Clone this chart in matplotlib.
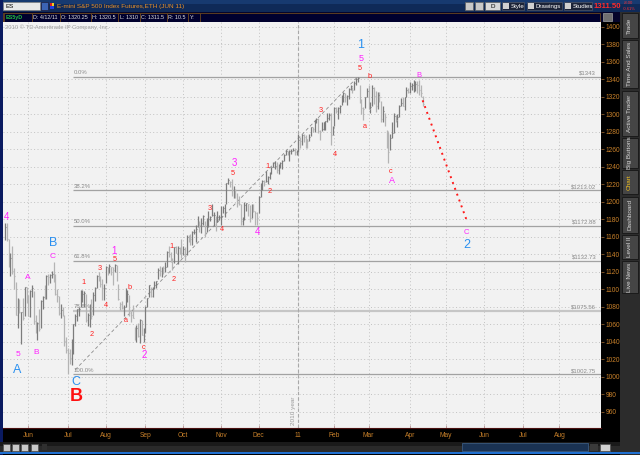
import matplotlib
matplotlib.use("Agg")
import matplotlib.pyplot as plt
from matplotlib.patches import Rectangle
import numpy as np

# ---------------- data ----------------
# daily bars, 12 May 2010 .. 12 Apr 2011 (trading-day index)
highs = [1176, 1176, 1157, 1141, 1149, 1124, 1108, 1090, 1089, 1074, 1090, 1103, 1103,
         1094, 1099, 1105, 1098, 1071, 1063, 1077, 1088, 1092, 1105, 1116, 1117, 1118, 1121, 1131, 1118, 1100, 1092, 1083, 1080, 1071, 1045,
         1033, 1032, 1043, 1060, 1072, 1078, 1080, 1099, 1099, 1098, 1095, 1073, 1083, 1089, 1097, 1103, 1116, 1120, 1115, 1112, 1106,
         1127, 1126, 1129, 1126, 1125, 1129, 1128, 1106, 1086, 1087, 1082, 1101, 1099, 1093, 1075, 1082, 1057, 1059, 1061, 1066, 1065, 1056,
         1081, 1090, 1105, 1103, 1103, 1110, 1110, 1124, 1127, 1126, 1127, 1131, 1144, 1149, 1143, 1136, 1148, 1149, 1150, 1148, 1158,
         1150, 1148, 1162, 1162, 1163, 1167, 1169, 1173, 1184, 1178, 1182, 1185, 1178, 1182, 1189, 1184, 1197, 1188, 1184, 1189, 1185,
         1195, 1195, 1198, 1221, 1227, 1224, 1226, 1218, 1215, 1210, 1207, 1198, 1183, 1200, 1199, 1198, 1196, 1198, 1198, 1190, 1188,
         1207, 1222, 1225, 1225, 1235, 1229, 1234, 1240, 1246, 1247, 1245, 1243, 1245, 1248, 1255, 1259, 1258, 1259, 1260, 1262, 1261, 1259,
         1277, 1274, 1277, 1278, 1276, 1272, 1277, 1286, 1286, 1293, 1296, 1296, 1282, 1291, 1291, 1292, 1302, 1301, 1302, 1287,
         1308, 1308, 1308, 1311, 1322, 1325, 1324, 1322, 1330, 1333, 1331, 1338, 1341, 1343, 1334, 1317, 1308, 1320, 1330,
         1333, 1314, 1334, 1331, 1327, 1325, 1326, 1315, 1309, 1302, 1282, 1280, 1278, 1291, 1301, 1299, 1300, 1311, 1319, 1320, 1320, 1331, 1330,
         1337, 1336, 1339, 1338, 1338, 1339, 1333, 1320.5]
lows = [1156, 1155, 1126, 1115, 1117, 1100, 1071, 1056, 1073, 1038, 1065, 1069, 1084,
        1069, 1068, 1091, 1060, 1050, 1042, 1052, 1056, 1077, 1089, 1089, 1105, 1107, 1113, 1108, 1094, 1085, 1071, 1067, 1070, 1035, 1027,
        1003, 1015, 1014, 1026, 1058, 1064, 1070, 1080, 1085, 1080, 1063, 1058, 1057, 1066, 1071, 1087, 1102, 1109, 1103, 1088, 1088,
        1107, 1116, 1119, 1116, 1105, 1120, 1109, 1088, 1076, 1078, 1069, 1080, 1085, 1070, 1063, 1067, 1042, 1040, 1045, 1039, 1048, 1040,
        1050, 1080, 1091, 1091, 1091, 1100, 1101, 1112, 1115, 1114, 1118, 1120, 1126, 1137, 1131, 1122, 1130, 1142, 1129, 1140, 1136,
        1139, 1131, 1139, 1154, 1151, 1151, 1163, 1154, 1171, 1166, 1164, 1174, 1160, 1166, 1171, 1178, 1184, 1172, 1167, 1177, 1179,
        1174, 1187, 1183, 1198, 1220, 1217, 1207, 1204, 1204, 1194, 1196, 1173, 1173, 1179, 1189, 1184, 1177, 1182, 1188, 1174, 1173,
        1187, 1206, 1214, 1218, 1223, 1220, 1226, 1232, 1240, 1237, 1233, 1232, 1239, 1238, 1247, 1254, 1253, 1247, 1255, 1258, 1254, 1254,
        1257, 1262, 1265, 1268, 1262, 1262, 1270, 1275, 1280, 1280, 1290, 1279, 1271, 1281, 1282, 1282, 1291, 1294, 1265, 1276,
        1287, 1302, 1295, 1301, 1311, 1314, 1314, 1311, 1317, 1328, 1324, 1328, 1333, 1337, 1313, 1300, 1294, 1307, 1320,
        1306, 1302, 1310, 1312, 1303, 1306, 1314, 1291, 1291, 1287, 1261, 1244, 1259, 1273, 1279, 1291, 1285, 1297, 1310, 1309, 1305, 1320, 1324,
        1324, 1328, 1326, 1327, 1324, 1322, 1320, 1310]
closes = [1171, 1157, 1136, 1136, 1121, 1115, 1071, 1087, 1074, 1074, 1067, 1103, 1089,
          1070, 1098, 1102, 1064, 1050, 1062, 1055, 1087, 1091, 1089, 1115, 1114, 1116, 1117, 1113, 1095, 1092, 1073, 1076, 1074, 1041, 1031,
          1027, 1022, 1028, 1060, 1070, 1078, 1078, 1095, 1095, 1096, 1065, 1071, 1083, 1069, 1093, 1102, 1115, 1113, 1106, 1101, 1101,
          1125, 1120, 1127, 1125, 1122, 1128, 1121, 1089, 1083, 1079, 1080, 1093, 1095, 1075, 1071, 1067, 1051, 1056, 1047, 1065, 1048, 1049,
          1080, 1090, 1105, 1092, 1099, 1105, 1110, 1122, 1121, 1125, 1124, 1125, 1143, 1140, 1134, 1124, 1148, 1142, 1147, 1145, 1141,
          1146, 1138, 1160, 1159, 1158, 1165, 1166, 1169, 1178, 1173, 1176, 1184, 1166, 1178, 1180, 1183, 1185, 1185, 1182, 1183, 1183,
          1184, 1193, 1198, 1221, 1225, 1223, 1213, 1218, 1213, 1199, 1198, 1178, 1178, 1196, 1199, 1197, 1181, 1198, 1189, 1187, 1181,
          1206, 1221, 1224, 1223, 1224, 1228, 1233, 1240, 1240, 1241, 1236, 1243, 1244, 1247, 1254, 1258, 1256, 1258, 1258, 1259, 1257, 1258,
          1271, 1270, 1276, 1274, 1272, 1269, 1274, 1285, 1283, 1293, 1295, 1281, 1280, 1283, 1291, 1292, 1296, 1299, 1276, 1286,
          1307, 1304, 1307, 1310, 1319, 1324, 1320, 1321, 1329, 1332, 1328, 1336, 1340, 1342, 1315, 1307, 1306, 1320, 1327,
          1306, 1308, 1330, 1321, 1310, 1322, 1320, 1295, 1304, 1297, 1281, 1257, 1273, 1279, 1298, 1293, 1297, 1309, 1313, 1310, 1320, 1328, 1326,
          1332, 1333, 1333, 1335, 1333, 1328, 1324, 1311.5]

month_pos = [13, 35, 56, 78, 99, 120, 141, 163, 183, 202, 225, 245, 266, 288, 308]
month_labels = ["Jun", "Jul", "Aug", "Sep", "Oct", "Nov", "Dec", "11", "Feb", "Mar", "Apr", "May", "Jun", "Jul", "Aug"]
price_ticks = list(range(960, 1401, 20))

fib_pcts = ["0.0%", "38.2%", "50.0%", "61.8%", "78.6%", "100.0%"]
fib_levels = [1343, 1213.02, 1172.88, 1132.73, 1075.56, 1002.75]
fib_start = 37.8

trend_x = [39, 196]
trend_y = [1008, 1343]
proj_x = [232, 257]
proj_y = [1316, 1176]
year_line = 163

# wave labels
mag_text = ["4", "5", "A", "B", "C", "1", "2", "3", "4", "5", "A", "B", "C"]
mag_x = [0.9, 7.4, 12.9, 17.6, 26.5, 60.7, 77.2, 127.2, 140.2, 197.6, 214.8, 230, 256.5]
mag_y = [1183, 1025, 1113, 1028, 1138, 1144, 1025, 1244, 1166, 1364, 1224, 1344, 1165]
mag_size = [7, 6, 6, 6, 6, 7, 7, 7, 7, 6.5, 6.5, 5.5, 5.5]

blue_text = ["A", "B", "C", "1", "2"]
blue_x = [6.5, 26.8, 39.4, 197.6, 256.5]
blue_y = [1008, 1153, 994, 1379, 1151]

bigred_text = ["B"]
bigred_x = [39.4]
bigred_y = [977]

red_text = ["1", "2", "3", "4", "5", "a", "b", "c", "1", "2", "3", "4", "5",
            "1", "2", "3", "4", "5", "a", "b", "c"]
red_x = [43.5, 48.2, 52.8, 56.1, 60.7, 67.2, 69.1, 76.8, 92.6, 93.9, 113.5, 120.7, 126.5,
         145.7, 147.2, 175.6, 183.3, 197.2, 199.8, 202.8, 214.3]
red_y = [1107.5, 1047.8, 1124, 1081, 1134, 1064, 1102.6, 1033, 1149.5, 1111.4, 1191.8, 1168.6, 1231.8,
         1240, 1211.5, 1304.6, 1253.5, 1352.6, 1285.8, 1343, 1235.2]

# ---------------- figure ----------------
W, H = 640, 455
FONT = ["Liberation Sans", "DejaVu Sans"]
NARROW = ["Liberation Sans Narrow", "Liberation Sans", "DejaVu Sans"]
plt.rcParams["font.family"] = FONT

fig = plt.figure(figsize=(W / 100, H / 100), dpi=100, facecolor="black")

# background chrome axes (pixel coordinates)
bg = fig.add_axes([0, 0, 1, 1], zorder=0)
bg.set_xlim(0, W)
bg.set_ylim(H, 0)
bg.axis("off")


def rect(x0, y0, x1, y1, fc, ec="none", lw=0.0, ax=bg):
    ax.add_patch(Rectangle((x0, y0), x1 - x0, y1 - y0, facecolor=fc, edgecolor=ec, linewidth=lw))


# header row 1
rect(0, 0, W, 12, "#0f2a58")
rect(0, 0, W, 4, "#173a70")
rect(3, 2, 40, 10, "#e8e8e8", "#808080", 0.5)
bg.text(6, 6.2, "ES", fontsize=4.5, color="black", va="center")
rect(41, 2, 48, 10, "#3c64b4", "#202040", 0.5)
rect(49.5, 3, 51.5, 6, "#e02020")
rect(51.5, 3, 53.5, 6, "#f0d020")
rect(49.5, 6, 53.5, 9, "#2040e0")
bg.text(57, 6.2, "E-mini S&P 500 Index Futures,ETH (JUN 11)", fontsize=4.6, color="#e8902a", va="center")
for x0, x1 in [(465, 473), (475, 483)]:
    rect(x0, 2, x1, 10, "#c8c8c8", "#606060", 0.5)
rect(485, 2, 500, 10, "#d8d8d8", "#606060", 0.5)
bg.text(492.5, 6.2, "D", fontsize=4.5, color="black", va="center", ha="center")
for x0, x1, lab in [(502, 524, "Style"), (527, 562, "Drawings"), (564, 592, "Studies")]:
    rect(x0, 2, x1, 10, "#1c2438", "#505868", 0.5)
    rect(x0 + 1, 3, x0 + 7, 9, "#d0d0d0")
    bg.text(x0 + 8.5, 6.2, lab, fontsize=4.4, color="white", va="center")
bg.text(594, 6.2, "1311.50", fontsize=5.6, color="#ff2a2a", va="center", fontweight="bold",
        fontfamily=NARROW)
bg.text(624, 2.9, "-8.00", fontsize=3.0, color="#ff3030", va="center", fontfamily=NARROW)
bg.text(623, 8.9, "-0.61%", fontsize=3.0, color="#ff3030", va="center", fontfamily=NARROW)

# header row 2
rect(0, 12, W, 22, "#05052a")
rect(3, 12.5, 600, 21.5, "#00002e", "#6a4620", 0.6)
row2 = [("ES5yD", 4, 31.7, "#22c040"), ("D: 4/12/11", 31.7, 60, "#e0e0e0"),
        ("O: 1320.25", 60, 90.7, "#e0e0e0"), ("H: 1320.5", 90.7, 118.3, "#e0e0e0"),
        ("L: 1310", 118.3, 140, "#e0e0e0"), ("C: 1311.5", 140, 166.7, "#e0e0e0"),
        ("R: 10.5", 166.7, 188.3, "#e0e0e0"), ("Y:", 188.3, 200, "#e0e0e0")]
for t, x0, x1, c in row2:
    rect(x0, 12.5, x1, 21.5, "#00002e", "#6a4620", 0.6)
    bg.text(x0 + 1.2, 17.2, t, fontsize=3.9, color=c, va="center", fontfamily=NARROW,
            fontweight="bold" if t == "ES5yD" else "normal")
rect(603, 13, 612, 21, "#707070", "#a0a0a0", 0.5)

# left border
rect(0, 0, 2.5, H, "#0a1a60")

# right tab panel
rect(620, 12, W, H, "#2c2c2c")
tabs = [("Trade", 13, 38), ("Time And Sales", 40, 88), ("Active Trader", 91, 136),
        ("Big Buttons", 138, 168), ("Chart", 170, 194), ("Dashboard", 197, 233),
        ("Level II", 235, 259), ("Live News", 261, 293)]
for t, y0, y1 in tabs:
    rect(621.5, y0, 637.5, y1, "#454545", "#161616", 0.6)
    bg.text(629.5, (y0 + y1) / 2, t, rotation=90, fontsize=4.6, va="center", ha="center",
            color="#f0c020" if t == "Chart" else "#d8d8d8")

# bottom scroll bar
rect(0, 442, 620, 452, "#1a1a1a")
rect(0, 446, 620, 452, "#2a2a2a")
for x0 in [3, 12, 21, 31]:
    rect(x0, 443.5, x0 + 7, 450.5, "#c8c8c8", "#505050", 0.5)
rect(42, 444, 47, 450, "#303030")
rect(462, 442.5, 588, 451, "#1a3252", "#3a5a80", 0.6)
rect(590, 443.5, 598, 450.5, "#3a3a3a")
rect(600, 443.5, 610, 450.5, "#d0d0d0", "#505050", 0.5)
rect(0, 451.5, W, 453.5, "#2070d0")

# ---------------- main price axes ----------------
ax = fig.add_axes([3 / W, (H - 428) / H, 598 / W, 406 / H], zorder=1)
ax.set_facecolor("#f2f2f2")
ax.set_xlim(-1.1, 331.1)
ax.set_ylim(941.5, 1405.5)
for s in ["left", "top", "right"]:
    ax.spines[s].set_visible(False)
ax.spines["bottom"].set_color("#4a1010")
ax.spines["bottom"].set_linewidth(0.8)

ax.yaxis.tick_right()
ax.set_yticks(price_ticks)
ax.set_yticklabels([str(p) for p in price_ticks], fontfamily=NARROW)
ax.tick_params(axis="y", direction="out", length=2.5, width=0.6, color="#8a5a2a",
               labelsize=4.8, labelcolor="#c8802a", pad=1)
ax.set_xticks(month_pos)
ax.set_xticklabels(month_labels, fontfamily=NARROW)
ax.tick_params(axis="x", direction="in", length=2, width=0.6, color="#b89090",
               labelsize=4.8, labelcolor="#c8802a", pad=3)
ax.grid(True, color="#c2c2c2", linestyle=(0, (1, 2.5)), linewidth=0.7)
ax.set_axisbelow(True)

# fibonacci levels
for i, (lev, pct) in enumerate(zip(fib_levels, fib_pcts)):
    lw, col = (1.6, "#c6c6c6") if pct == "78.6%" else (0.9, "#a2a2a2")
    ax.hlines(lev, fib_start, 331.1, color=col, linewidth=lw, zorder=2)
    ax.text(fib_start + 0.3, lev + 1.6, pct, fontsize=4.3, color="#8a8a8a",
            ha="left", va="bottom", zorder=3)
    ax.text(328.5, lev + 1.6, f"${lev:g}", fontsize=4.3, color="#8a8a8a",
            ha="right", va="bottom", zorder=3)

# year separator
ax.axvline(year_line, color="#a8a8a8", linestyle=(0, (3, 2)), linewidth=0.8, zorder=2)
ax.text(year_line - 2.7, 945, "2010 year", rotation=90, fontsize=4.6, color="#9a9a9a",
        ha="center", va="bottom", zorder=3)

# trend line
ax.plot(trend_x, trend_y, color="#8c8c8c", linestyle=(0, (4, 3)), linewidth=0.6, zorder=2)

# OHLC bars
idx = np.arange(len(highs))
hi = np.array(highs)
lo = np.array(lows)
cl = np.array(closes)
prev = np.concatenate([[cl[0]], cl[:-1]])
cols = np.where(cl >= prev, "#7c7c7c", "#b4b4b4")
ax.vlines(idx, lo, hi, colors=cols, linewidth=0.9, zorder=4)
ax.hlines(cl, idx, idx + 0.5, colors=cols, linewidth=0.8, zorder=4)

# projection
ax.plot(proj_x, proj_y, color="#ff1a1a", linestyle=(0, (1, 2.2)), linewidth=1.4, zorder=5)

# wave labels
for t, x, y, s in zip(mag_text, mag_x, mag_y, mag_size):
    ax.text(x, y, t, color="#ff22ff", fontsize=s, ha="center", va="center", zorder=6)
for t, x, y in zip(blue_text, blue_x, blue_y):
    ax.text(x, y, t, color="#2a90f0", fontsize=9, ha="center", va="center", zorder=6)
for t, x, y in zip(bigred_text, bigred_x, bigred_y):
    ax.text(x, y, t, color="#ff1010", fontsize=13, fontweight="bold",
            ha="center", va="center", zorder=6)
for t, x, y in zip(red_text, red_x, red_y):
    ax.text(x, y, t, color="#ff2020", fontsize=5.3, ha="center", va="center", zorder=6)

# overlay for copyright text
ov = fig.add_axes([0, 0, 1, 1], zorder=2)
ov.set_xlim(0, W)
ov.set_ylim(H, 0)
ov.axis("off")
ov.patch.set_alpha(0)
ov.text(5, 27.5, "2010 \u00a9 TD Ameritrade IP Company, Inc.", fontsize=4.2, color="#a0a0a0", va="center")

fig.savefig("out.png", dpi=100, facecolor=fig.get_facecolor())
